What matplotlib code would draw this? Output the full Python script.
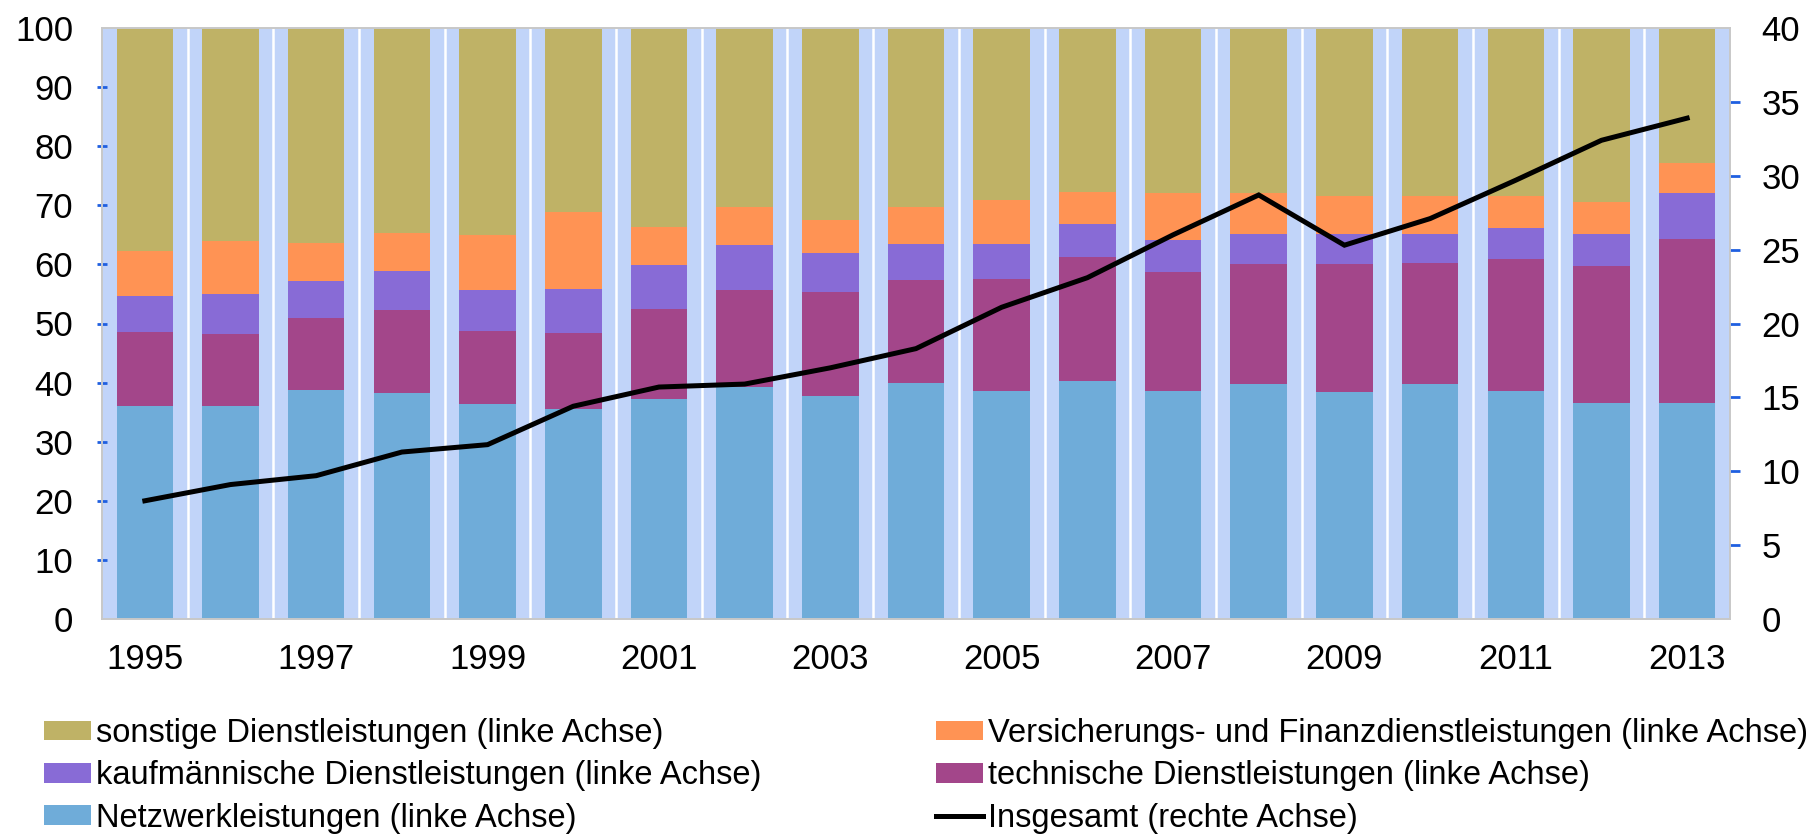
import matplotlib
matplotlib.use("Agg")
import matplotlib.pyplot as plt
from matplotlib.patches import Patch
from matplotlib.lines import Line2D
import numpy as np

years = list(range(1995, 2014))
tick_years = [1995, 1997, 1999, 2001, 2003, 2005, 2007, 2009, 2011, 2013]

# cumulative tops (left axis, %)
netz_top = [36.1, 36.0, 38.8, 38.3, 36.4, 35.5, 37.2, 39.2, 37.8, 40.0, 38.6, 40.3, 38.6, 39.8, 38.4, 39.8, 38.6, 36.6, 36.6]
tech_top = [48.5, 48.2, 51.0, 52.3, 48.8, 48.4, 52.5, 55.6, 55.4, 57.4, 57.6, 61.3, 58.7, 60.1, 60.1, 60.3, 60.9, 59.7, 64.3]
kauf_top = [54.6, 55.0, 57.2, 58.9, 55.6, 55.8, 59.9, 63.3, 61.9, 63.5, 63.5, 66.8, 64.2, 65.2, 65.2, 65.2, 66.2, 65.2, 72.0]
vers_top = [62.3, 64.0, 63.6, 65.3, 65.0, 68.9, 66.4, 69.7, 67.5, 69.7, 70.9, 72.3, 72.0, 72.1, 71.6, 71.6, 71.6, 70.6, 77.1]
total_top = [100.0] * 19

# Insgesamt (right axis)
insgesamt = [8.0, 9.1, 9.7, 11.3, 11.8, 14.4, 15.7, 15.9, 17.0, 18.3, 21.1, 23.1, 26.0, 28.7, 25.3, 27.1, 29.7, 32.4, 33.9]

labels = [
    "sonstige Dienstleistungen (linke Achse)",
    "Versicherungs- und Finanzdienstleistungen (linke Achse)",
    "kaufmännische Dienstleistungen (linke Achse)",
    "technische Dienstleistungen (linke Achse)",
    "Netzwerkleistungen (linke Achse)",
    "Insgesamt (rechte Achse)",
]

c_sonst = "#BFB266"
c_vers = "#FF9354"
c_kauf = "#886BD6"
c_tech = "#A3468A"
c_netz = "#6FACD9"
c_bg = "#C1D4F9"
c_tick = "#1F5FE0"

plt.rcParams["font.family"] = ["Liberation Sans", "DejaVu Sans"]

fig = plt.figure(figsize=(18.19, 8.34), dpi=100)
ax = fig.add_axes([102/1819, 1-619/834, (1730-102)/1819, (619-28)/834])
ax.set_facecolor(c_bg)

x = np.arange(len(years))
netz = np.array(netz_top)
tech = np.array(tech_top) - netz
kauf = np.array(kauf_top) - np.array(tech_top)
vers = np.array(vers_top) - np.array(kauf_top)
sonst = np.array(total_top) - np.array(vers_top)

w = 0.66
ax.bar(x, netz, w, color=c_netz, zorder=2)
ax.bar(x, tech, w, bottom=netz, color=c_tech, zorder=2)
ax.bar(x, kauf, w, bottom=np.array(tech_top), color=c_kauf, zorder=2)
ax.bar(x, vers, w, bottom=np.array(kauf_top), color=c_vers, zorder=2)
ax.bar(x, sonst, w, bottom=np.array(vers_top), color=c_sonst, zorder=2)

for b in np.arange(-0.5, len(years), 1.0)[1:-1]:
    ax.axvline(b, color="white", lw=1.8, zorder=1)

ax.set_xlim(-0.5, len(years) - 0.5)
ax.set_ylim(0, 100)
ax.set_yticks(range(0, 101, 10))
ax.set_xticks([years.index(y) for y in tick_years])
ax.set_xticklabels([str(y) for y in tick_years])
ax.tick_params(axis="x", length=0, pad=17, labelsize=25)
ax.tick_params(axis="y", length=7.5, width=2, color=c_tick, direction="inout",
               pad=17, labelsize=25)
for s in ax.spines.values():
    s.set_color("#C8C8C8")
    s.set_linewidth(1.2)

ax2 = ax.twinx()
ax2.plot(x, insgesamt, color="black", lw=3.6, solid_joinstyle="miter", zorder=5)
ax2.set_ylim(0, 40)
ax2.set_yticks(range(0, 41, 5))
ax2.tick_params(axis="y", length=7.5, width=2, color=c_tick, direction="out",
                pad=15, labelsize=25)
for s in ax2.spines.values():
    s.set_color("#C8C8C8")
    s.set_linewidth(1.2)

fig.canvas.draw()
for a in (ax, ax2):
    ticks = a.yaxis.get_major_ticks()
    for t in (ticks[0], ticks[-1]):
        t.tick1line.set_visible(False)
        t.tick2line.set_visible(False)

h_sonst = Patch(facecolor=c_sonst)
h_vers = Patch(facecolor=c_vers)
h_kauf = Patch(facecolor=c_kauf)
h_tech = Patch(facecolor=c_tech)
h_netz = Patch(facecolor=c_netz)
h_ins = Line2D([0], [0], color="black", lw=3.6)

common = dict(frameon=False, fontsize=23.5, handlelength=1.44, handleheight=0.55,
              handletextpad=0.15, labelspacing=0.35, borderaxespad=0, borderpad=0)
leg1 = fig.legend([h_sonst, h_kauf, h_netz], [labels[0], labels[2], labels[4]],
                  loc="upper left", bbox_to_anchor=(44/1819, 1-718/834), **common)
leg2 = fig.legend([h_vers, h_tech, h_ins], [labels[1], labels[3], labels[5]],
                  loc="upper left", bbox_to_anchor=(936/1819, 1-718/834), **common)

fig.savefig("out.png", dpi=100)
